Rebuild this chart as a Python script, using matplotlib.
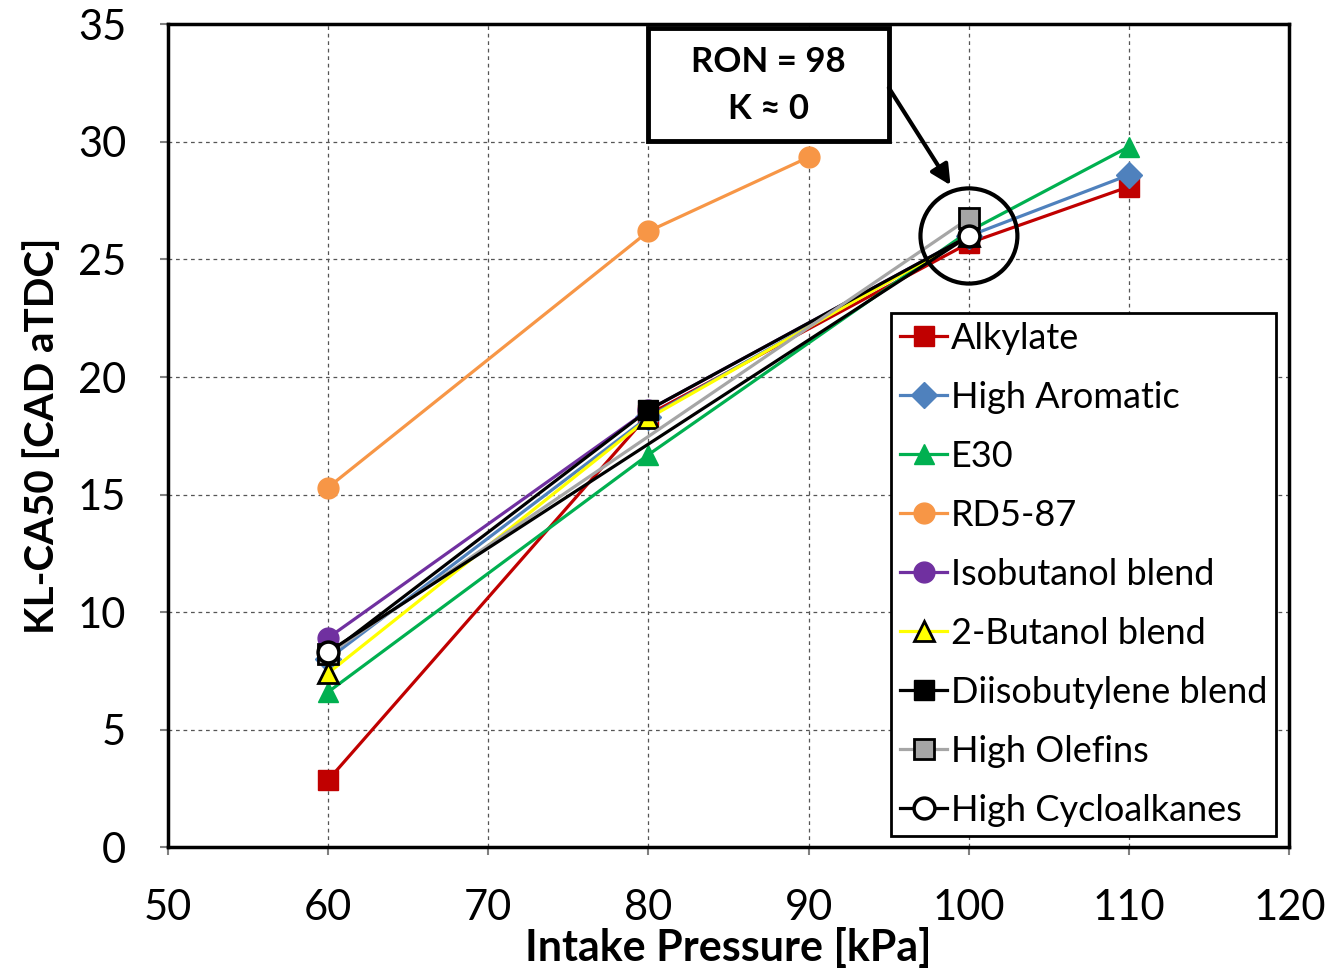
import matplotlib
matplotlib.use("Agg")
import matplotlib.pyplot as plt
from matplotlib.patches import Ellipse, Rectangle

plt.rcParams['font.family'] = ['Lato', 'DejaVu Sans']

pressure = [60, 80, 100, 110]
alkylate = [2.85, 18.4, 25.7, 28.1]
high_aromatic = [8.0, 18.3, 26.0, 28.6]
e30 = [6.6, 16.7, 26.2, 29.8]
rd5_pressure = [60, 80, 90]
rd5_87 = [15.3, 26.2, 29.35]
blend_pressure = [60, 80, 100]
isobutanol = [8.9, 18.6, 26.0]
butanol2 = [7.4, 18.25, 26.0]
diisobutylene = [8.2, 18.6, 26.0]
pair_pressure = [60, 100]
high_olefins = [8.2, 26.75]
high_cycloalkanes = [8.3, 26.0]

fig = plt.figure(figsize=(13.32, 9.76), dpi=100)
ax = fig.add_axes([0.126, 0.132, 0.842, 0.843])

ms = 15
lw = 2.3
series = [
    (pressure, alkylate, "Alkylate", dict(color="#C00000", marker="s", mfc="#C00000", mec="#C00000")),
    (pressure, high_aromatic, "High Aromatic", dict(color="#4F81BD", marker="D", mfc="#4F81BD", mec="#4F81BD", ms=ms * 0.85)),
    (pressure, e30, "E30", dict(color="#00B050", marker="^", mfc="#00B050", mec="#00B050")),
    (rd5_pressure, rd5_87, "RD5-87", dict(color="#F79646", marker="o", mfc="#F79646", mec="#F79646")),
    (blend_pressure, isobutanol, "Isobutanol blend", dict(color="#7030A0", marker="o", mfc="#7030A0", mec="#7030A0")),
    (blend_pressure, butanol2, "2-Butanol blend", dict(color="#FFFF00", marker="^", mfc="#FFFF00", mec="black", mew=2)),
    (blend_pressure, diisobutylene, "Diisobutylene blend", dict(color="black", marker="s", mfc="black", mec="black")),
    (pair_pressure, high_olefins, "High Olefins", dict(color="#A6A6A6", marker="s", mfc="#A6A6A6", mec="black", mew=2)),
    (pair_pressure, high_cycloalkanes, "High Cycloalkanes", dict(color="black", marker="o", mfc="white", mec="black", mew=2.5)),
]
for x, y, name, style in series:
    style.setdefault("ms", ms)
    ax.plot(x, y, lw=lw, label=name, **style)

ax.set_xlim(50, 120)
ax.set_ylim(0, 35)
ax.set_xticks(range(50, 121, 10))
ax.set_yticks(range(0, 36, 5))
ax.tick_params(labelsize=30, direction="out", length=6, width=1.5, color="gray", pad=24)
ax.grid(True, linestyle=(0, (3, 3)), color="#555555", lw=0.9)
for s in ax.spines.values():
    s.set_linewidth(2.5)
    s.set_color("black")

ax.set_xlabel("Intake Pressure [kPa]", fontsize=31, fontweight="bold", labelpad=0)
ax.set_ylabel("KL-CA50 [CAD aTDC]", fontsize=29, fontweight="bold", labelpad=12)

leg = ax.legend(loc="lower right", bbox_to_anchor=(0.9884, 0.0134), fontsize=26,
                handlelength=1.3, handletextpad=0.1, labelspacing=0.72,
                borderpad=0.25, borderaxespad=0, fancybox=False, framealpha=1,
                edgecolor="black", markerscale=1.0)
leg.get_frame().set_linewidth(2)

# circled point at 100 kPa and callout box
ax.add_patch(Ellipse((100, 26), width=6.05, height=4.05, fill=False, lw=3, color="black", zorder=5))
ax.add_patch(Rectangle((80.0, 30.05), 15.0, 4.8, fc="white", ec="black", lw=3.5, zorder=6))
ax.text(87.5, 32.4, "RON = 98\nK ≈ 0", fontsize=25, fontweight="bold",
        ha="center", va="center", linespacing=1.6, zorder=7)
ax.annotate("", xy=(98.85, 28.16), xytext=(95.0, 32.3),
            arrowprops=dict(arrowstyle="-|>", color="black", lw=3, mutation_scale=30,
                            shrinkA=0, shrinkB=0),
            zorder=6)

fig.savefig("out.png", dpi=100)
